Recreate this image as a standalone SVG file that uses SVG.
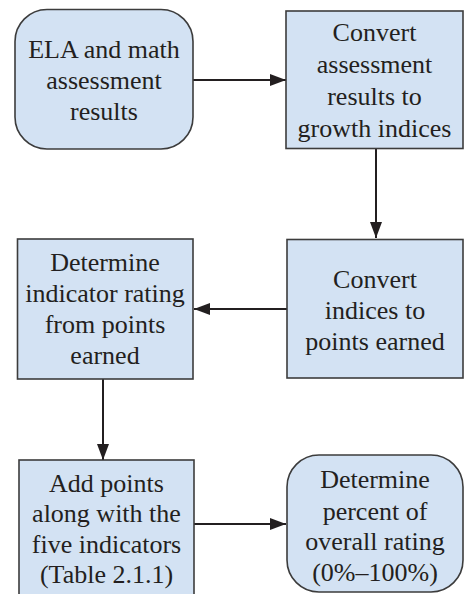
<svg xmlns="http://www.w3.org/2000/svg" width="465" height="594" viewBox="0 0 465 594">
<style>
.box{fill:#d3e2f3;stroke:#3c3c3c;stroke-width:1.6}
.t{font-family:'Liberation Serif','Noto Serif','DejaVu Serif',Times,serif;font-size:26px;fill:#231f20;text-anchor:middle}
.c{stroke:#231f20;stroke-width:2;fill:none;marker-end:url(#ah)}
</style>
<defs>
<marker id="ah" markerWidth="16" markerHeight="12" refX="16" refY="6" orient="auto" markerUnits="userSpaceOnUse">
<path d="M0,0 L16,6 L0,12 Z" fill="#231f20"/>
</marker>
</defs>
<rect width="465" height="594" fill="#ffffff"/>
<g id="connectors">
<line class="c" x1="193" y1="80" x2="286" y2="80"/>
<line class="c" x1="376" y1="148" x2="376" y2="238"/>
<line class="c" x1="287" y1="309" x2="194" y2="309"/>
<line class="c" x1="103" y1="379" x2="103" y2="460"/>
<line class="c" x1="194" y1="524" x2="286" y2="524"/>
</g>
<g id="n1">
<rect class="box" x="15" y="9.5" width="178" height="139.5" rx="32" ry="32"/>
<text class="t" x="104" y="58">ELA and math</text>
<text class="t" x="104" y="89">assessment</text>
<text class="t" x="104" y="120">results</text>
</g>
<g id="n2">
<rect class="box" x="286" y="11" width="177" height="137.5"/>
<text class="t" x="374.5" y="41">Convert</text>
<text class="t" x="374.5" y="73">assessment</text>
<text class="t" x="374.5" y="105">results to</text>
<text class="t" x="374.5" y="137">growth indices</text>
</g>
<g id="n3">
<rect class="box" x="287" y="239.5" width="176" height="138.5"/>
<text class="t" x="375" y="288">Convert</text>
<text class="t" x="375" y="319">indices to</text>
<text class="t" x="375" y="350">points earned</text>
</g>
<g id="n4">
<rect class="box" x="17.5" y="239" width="175.5" height="140"/>
<text class="t" x="105" y="271">Determine</text>
<text class="t" x="105" y="302">indicator rating</text>
<text class="t" x="105" y="333">from points</text>
<text class="t" x="105" y="364">earned</text>
</g>
<g id="n5">
<rect class="box" x="19" y="460" width="175" height="140"/>
<text class="t" x="106.5" y="492">Add points</text>
<text class="t" x="106.5" y="522">along with the</text>
<text class="t" x="106.5" y="553">five indicators</text>
<text class="t" x="106.5" y="583">(Table 2.1.1)</text>
</g>
<g id="n6">
<rect class="box" x="287" y="455" width="176" height="137" rx="32" ry="32"/>
<text class="t" x="375" y="488">Determine</text>
<text class="t" x="375" y="520">percent of</text>
<text class="t" x="375" y="550">overall rating</text>
<text class="t" x="375" y="581">(0%–100%)</text>
</g>
</svg>
